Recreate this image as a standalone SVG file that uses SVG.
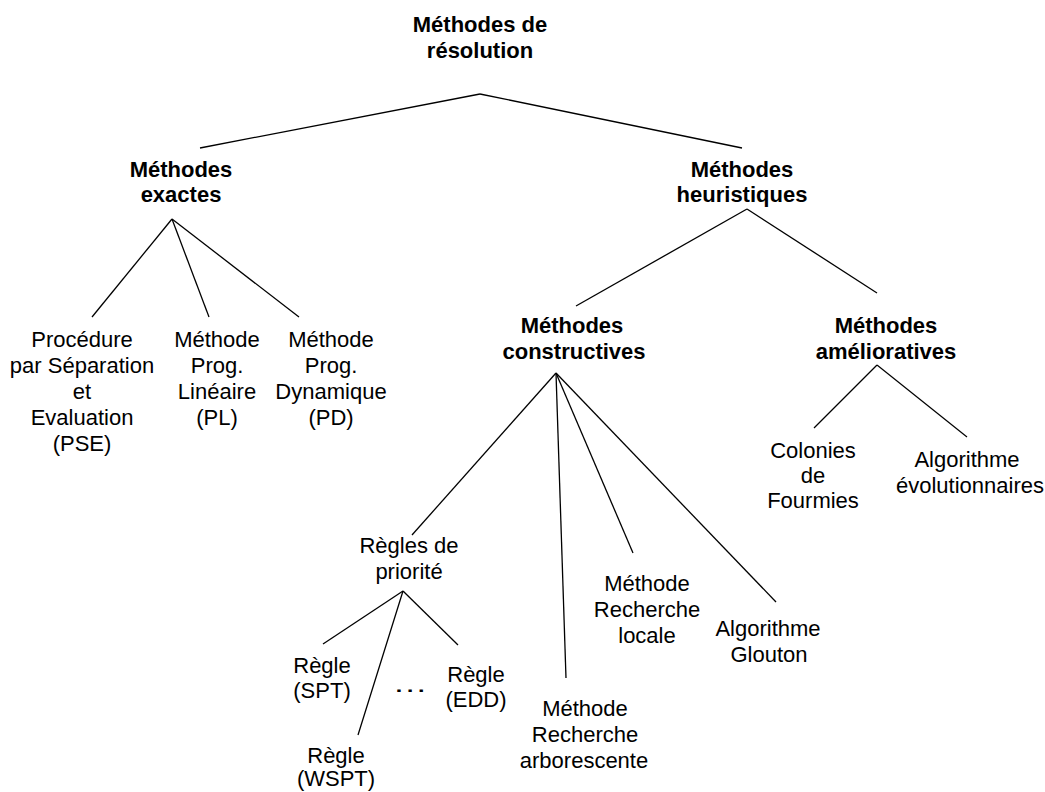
<svg xmlns="http://www.w3.org/2000/svg" width="1045" height="792" viewBox="0 0 1045 792">
<style>
text{font-family:"Liberation Sans",Arial,sans-serif;font-size:22px;fill:#000;text-anchor:middle}
.b{font-weight:bold}
.c line{stroke:#000;stroke-width:1.3;fill:none}
</style>
<rect width="1045" height="792" fill="#fff"/>
<g class="c" id="connectors">
<line x1="480" y1="94" x2="200" y2="148"/>
<line x1="480" y1="94" x2="742" y2="148"/>
<line x1="172" y1="219" x2="92" y2="317"/>
<line x1="172" y1="219" x2="209" y2="317"/>
<line x1="172" y1="219" x2="299" y2="317"/>
<line x1="747" y1="209" x2="576" y2="306"/>
<line x1="747" y1="209" x2="877" y2="293"/>
<line x1="877" y1="365" x2="814" y2="428"/>
<line x1="877" y1="365" x2="967" y2="437"/>
<line x1="556" y1="373" x2="412" y2="535"/>
<line x1="556" y1="373" x2="566" y2="678"/>
<line x1="556" y1="373" x2="633" y2="553"/>
<line x1="556" y1="373" x2="776" y2="602"/>
<line x1="403" y1="591" x2="323" y2="644"/>
<line x1="403" y1="591" x2="358" y2="735"/>
<line x1="403" y1="591" x2="458" y2="645"/>
</g>
<g id="root"><text class="b" x="480" y="32">Méthodes de</text><text class="b" x="480" y="58">résolution</text></g>
<g id="exactes"><text class="b" x="181" y="177">Méthodes</text><text class="b" x="181" y="202">exactes</text></g>
<g id="heuristiques"><text class="b" x="742" y="177">Méthodes</text><text class="b" x="742" y="202">heuristiques</text></g>
<g id="pse"><text x="82" y="347">Procédure</text><text x="82" y="373">par Séparation</text><text x="82" y="399">et</text><text x="82" y="425">Evaluation</text><text x="82" y="451">(PSE)</text></g>
<g id="pl"><text x="217" y="347">Méthode</text><text x="217" y="373">Prog.</text><text x="217" y="399">Linéaire</text><text x="217" y="425">(PL)</text></g>
<g id="pd"><text x="331" y="347">Méthode</text><text x="331" y="373">Prog.</text><text x="331" y="399">Dynamique</text><text x="331" y="425">(PD)</text></g>
<g id="constructives"><text class="b" x="572" y="333">Méthodes</text><text class="b" x="574" y="359">constructives</text></g>
<g id="ameliorratives"><text class="b" x="886" y="333">Méthodes</text><text class="b" x="886" y="359">amélioratives</text></g>
<g id="colonies"><text x="813" y="458">Colonies</text><text x="813" y="483">de</text><text x="813" y="508">Fourmies</text></g>
<g id="evolutionnaires"><text x="967" y="467">Algorithme</text><text x="970" y="493">évolutionnaires</text></g>
<g id="priorite"><text x="409" y="553">Règles de</text><text x="409" y="579">priorité</text></g>
<g id="spt"><text x="322" y="673">Règle</text><text x="322" y="698">(SPT)</text></g>
<g id="dots"><text x="0" y="0" transform="translate(410,692) scale(1.6,1)">…</text></g>
<g id="edd"><text x="476" y="682">Règle</text><text x="476" y="707">(EDD)</text></g>
<g id="wspt"><text x="336" y="763">Règle</text><text x="336" y="786">(WSPT)</text></g>
<g id="arborescente"><text x="585" y="716">Méthode</text><text x="585" y="742">Recherche</text><text x="584" y="768">arborescente</text></g>
<g id="locale"><text x="647" y="591">Méthode</text><text x="647" y="617">Recherche</text><text x="647" y="643">locale</text></g>
<g id="glouton"><text x="768" y="636">Algorithme</text><text x="769" y="662">Glouton</text></g>
</svg>
